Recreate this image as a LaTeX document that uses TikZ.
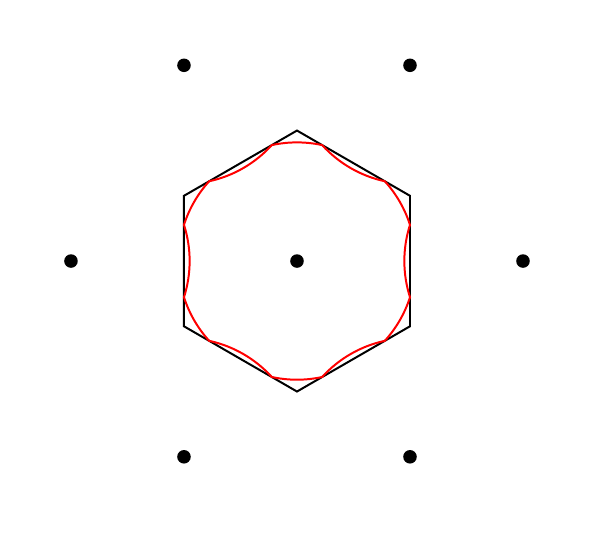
\documentclass[tikz,border=0pt]{standalone}
\usepackage{tikz}
\usetikzlibrary{calc}

\begin{document}
\begin{tikzpicture}[
  site/.style={circle, fill=black, inner sep=0pt, minimum size=0.12cm},
  zone/.style={draw=black, line width=0.5pt, line join=miter},
  fermi/.style={draw=red, line width=0.5pt}
]
  \useasboundingbox (-2.628,-2.504) rectangle (2.770,2.310);
  % lattice points
  \node[site] (s0) at (0,0) {};
  \foreach \k in {1,...,6}
    \node[site] (s\k) at ({60*(\k-1)}:2) {};
  % first zone
  \draw[zone] (30:1.1547) -- (90:1.1547) -- (150:1.1547) -- (210:1.1547)
    -- (270:1.1547) -- (330:1.1547) -- cycle;
  % folded circle
  \def\rF{1.050}
  \def\al{17.75}
  \draw[fermi] ({-60+\al}:\rF)
    \foreach \t in {0,60,...,300} {
      arc[start angle=\t-60+\al, end angle=\t-\al, radius=\rF]
      arc[start angle=\t+180+\al, end angle=\t+180-\al, radius=\rF]
    } -- cycle;
\end{tikzpicture}
\end{document}
